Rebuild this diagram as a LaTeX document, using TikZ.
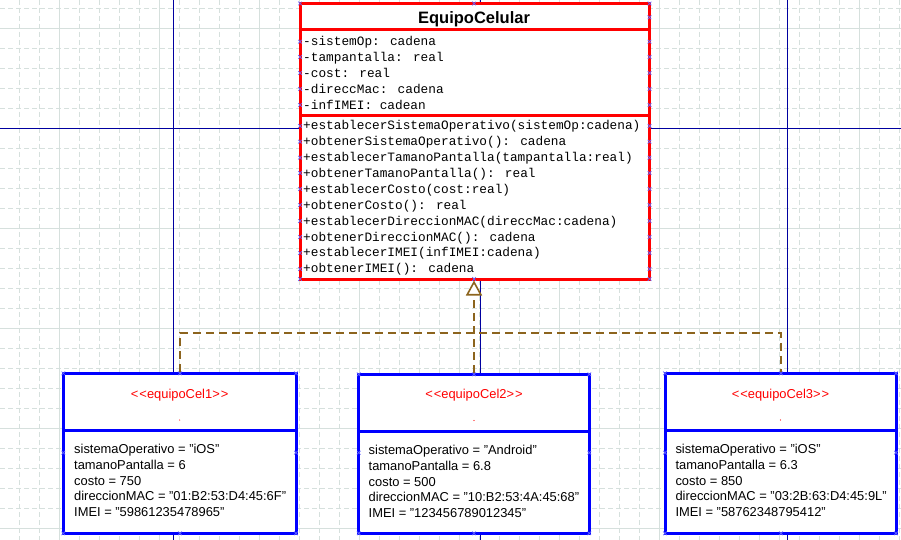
\documentclass[tikz,border=0pt]{standalone}
\usepackage{fontspec}
\setmainfont{Liberation Sans}
\newfontfamily\monofam{Liberation Mono}
\usetikzlibrary{arrows.meta}
\definecolor{gridc}{RGB}{214,224,221}
\definecolor{guidec}{RGB}{0,0,160}
\definecolor{depc}{RGB}{140,100,30}
\definecolor{hndc}{RGB}{100,100,255}
\newcommand{\stereotag}[1]{{<}\kern1pt{<}#1{>}\kern1pt{>}}
\begin{document}
\begin{tikzpicture}[x=1pt,y=-1pt,
  gridsolid/.style={draw=gridc,line width=1pt},
  griddash/.style={draw=gridc,line width=1pt,dash pattern=on 5pt off 3pt},
  guideline/.style={draw=guidec,line width=1.3pt},
  classbox/.style={draw=red,line width=3pt,fill=white,inner sep=0pt},
  objbox/.style={draw=blue,line width=3pt,fill=white,inner sep=0pt},
  redsep/.style={draw=red,line width=3pt},
  bluesep/.style={draw=blue,line width=3pt},
  titletext/.style={font=\bfseries\fontsize{16.5}{18}\selectfont,inner sep=0pt,anchor=base},
  monotext/.style={font=\monofam\fontsize{12.77}{14}\selectfont,inner sep=0pt,anchor=base west},
  stereo/.style={font=\fontsize{12.9}{14}\selectfont,text=red,inner sep=0pt,anchor=base},
  bodytext/.style={font=\fontsize{12.9}{14}\selectfont,inner sep=0pt,anchor=base west},
  depline/.style={draw=depc,line width=2pt,dash pattern=on 8pt off 5pt},
  hnd/.pic={\draw[hndc,line width=0.7pt] (-1.8,-1.8)--(1.8,1.8) (-1.8,1.8)--(1.8,-1.8);}
]
\useasboundingbox (0,0) rectangle (901,540);
\fill[white] (0,0) rectangle (901,540);
% grid
\foreach \k in {0,...,44} \draw[griddash] (19.5+20*\k,0) -- (19.5+20*\k,540);
\foreach \k in {0,...,26} \draw[griddash] (0,8.5+20*\k) -- (901,8.5+20*\k);
\foreach \k in {0,...,8} \draw[gridsolid] (59.5+100*\k,0) -- (59.5+100*\k,540);
\foreach \k in {0,...,5} \draw[gridsolid] (0,28.5+100*\k) -- (901,28.5+100*\k);
% guide lines
\draw[guideline] (173.5,0) -- (173.5,540);
\draw[guideline] (480.5,0) -- (480.5,540);
\draw[guideline] (787.5,0) -- (787.5,540);
\draw[guideline] (0,128.5) -- (901,128.5);

% class box
\node[classbox,minimum width=349.5pt,minimum height=275.5pt] (cls) at (474.75,141.25) {};
\draw[redsep] (300,30) -- (649.5,30);
\draw[redsep] (300,115.5) -- (649.5,115.5);
\node[titletext] (title) at (474,23.3) {EquipoCelular};
\node[monotext] (a0) at (303,45.3) {-sistemOp: cadena};
\node[monotext] (a1) at (303,61.3) {-tampantalla: real};
\node[monotext] (a2) at (303,77.3) {-cost: real};
\node[monotext] (a3) at (303,93.3) {-direccMac: cadena};
\node[monotext] (a4) at (303,109.3) {-infIMEI: cadean};
\node[monotext] (m0) at (303,130.0) {+establecerSistemaOperativo(sistemOp:cadena)};
\node[monotext] (m1) at (303,145.87) {+obtenerSistemaOperativo(): cadena};
\node[monotext] (m2) at (303,161.74) {+establecerTamanoPantalla(tampantalla:real)};
\node[monotext] (m3) at (303,177.61) {+obtenerTamanoPantalla(): real};
\node[monotext] (m4) at (303,193.48) {+establecerCosto(cost:real)};
\node[monotext] (m5) at (303,209.35) {+obtenerCosto(): real};
\node[monotext] (m6) at (303,225.22) {+establecerDireccionMAC(direccMac:cadena)};
\node[monotext] (m7) at (303,241.09) {+obtenerDireccionMAC(): cadena};
\node[monotext] (m8) at (303,256.96) {+establecerIMEI(infIMEI:cadena)};
\node[monotext] (m9) at (303,272.83) {+obtenerIMEI(): cadena};

% object boxes
\node[objbox,minimum width=232.7pt,minimum height=160pt] (o1) at (179.65,453.3) {};
\node[objbox,minimum width=230.6pt,minimum height=159pt] (o2) at (474,453.8) {};
\node[objbox,minimum width=231pt,minimum height=160pt] (o3) at (780.5,453.3) {};
\draw[bluesep] (63.3,430.7) -- (296,430.7);
\draw[bluesep] (358.7,431.7) -- (589.3,431.7);
\draw[bluesep] (665,430.7) -- (896,430.7);

\node[stereo] (s1) at (179.65,398.3) {\stereotag{equipoCel1}};
\node[stereo] (s2) at (474,398.8) {\stereotag{equipoCel2}};
\node[stereo] (s3) at (780.5,398.3) {\stereotag{equipoCel3}};
\fill[red] (179.65,420) circle (0.6);
\fill[red] (474,420.5) circle (0.6);
\fill[red] (780.5,420) circle (0.6);

\node[bodytext] (b10) at (74,453.3) {sistemaOperativo = "iOS"};
\node[bodytext] (b11) at (74,469.15) {tamanoPantalla = 6};
\node[bodytext] (b12) at (74,485.0) {costo = 750};
\node[bodytext] (b13) at (74,500.85) {direccionMAC = "01:B2:53:D4:45:6F"};
\node[bodytext] (b14) at (74,516.7) {IMEI = "59861235478965"};

\node[bodytext] (b20) at (368.5,454.3) {sistemaOperativo = "Android"};
\node[bodytext] (b21) at (368.5,470.15) {tamanoPantalla = 6.8};
\node[bodytext] (b22) at (368.5,486.0) {costo = 500};
\node[bodytext] (b23) at (368.5,501.85) {direccionMAC = "10:B2:53:4A:45:68"};
\node[bodytext] (b24) at (368.5,517.7) {IMEI = "123456789012345"};

\node[bodytext] (b30) at (675.3,453.3) {sistemaOperativo = "iOS"};
\node[bodytext] (b31) at (675.3,469.15) {tamanoPantalla = 6.3};
\node[bodytext] (b32) at (675.3,485.0) {costo = 850};
\node[bodytext] (b33) at (675.3,500.85) {direccionMAC = "03:2B:63:D4:45:9L"};
\node[bodytext] (b34) at (675.3,516.7) {IMEI = "58762348795412"};

% connectors
\draw[depline] (o1.north -| 180,0) -- ++(0,-39) -| (o3.north -| 781,0);
\draw[depline,-{Triangle[width=16pt,length=15pt,fill=white,line width=1.6pt]}] (o2.north) -- (cls.south -| o2.north);

% handles
\foreach \yy in {3.5,41.7,57,73,89,105,126,141.7,157.7,173,189,205,221,237,253,269,279}
  \pic at (300,\yy) {hnd};
\foreach \yy in {3.5,17.3,41.7,57,73,89,105,126,141.7,157.7,173,189,205,221,237,253,269,279}
  \pic at (649.5,\yy) {hnd};
\pic at (474,3.5) {hnd};
\pic at (474,279) {hnd};
\foreach \xl/\xr/\xc/\yt in {63.3/296/180/373.3, 358.7/589.3/474/374.3, 665/896/781/373.3} {
  \pic at (\xl,\yt) {hnd};
  \pic at (\xr,\yt) {hnd};
  \pic at (\xc,\yt) {hnd};
  \pic at (\xl,533.3) {hnd};
  \pic at (\xr,533.3) {hnd};
  \pic at (\xc,533.3) {hnd};
  \pic at (\xl,452.7) {hnd};
  \pic at (\xr,452.7) {hnd};
}
\end{tikzpicture}
\end{document}
